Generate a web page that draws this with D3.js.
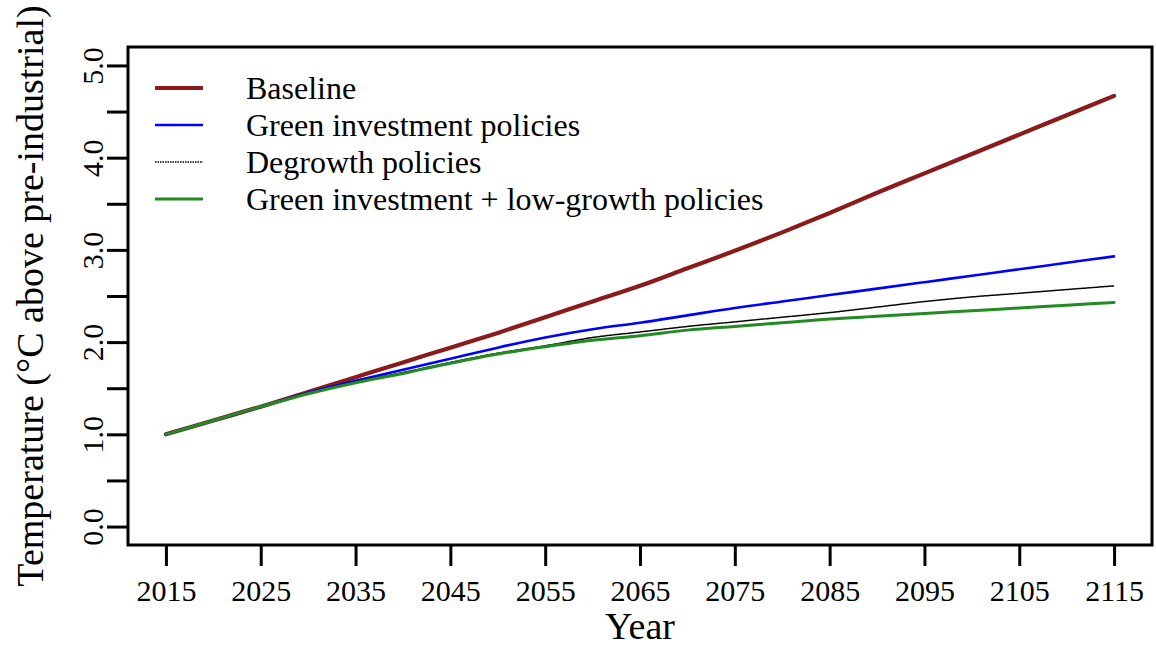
<!DOCTYPE html>
<html>
<head>
<meta charset="utf-8">
<script src="https://cdn.jsdelivr.net/npm/d3@7"></script>
<style>
  html, body { margin: 0; padding: 0; background: #fff; }
  svg { display: block; }
  text { font-family: "Liberation Serif", "DejaVu Serif", serif; fill: #000; }
</style>
</head>
<body>
<svg id="chart" width="1156" height="646"></svg>
<script>
// ---- data ----
const years = [2015, 2020, 2025, 2030, 2035, 2040, 2045, 2050, 2055, 2060, 2065,
               2070, 2075, 2080, 2085, 2090, 2095, 2100, 2105, 2110, 2115];
const baseline   = [1.00, 1.15, 1.30, 1.46, 1.62, 1.78, 1.94, 2.10, 2.27, 2.44, 2.61,
                    2.80, 2.99, 3.19, 3.40, 3.62, 3.83, 4.04, 4.25, 4.46, 4.67];
const greenInv   = [1.00, 1.15, 1.30, 1.45, 1.58, 1.70, 1.82, 1.94, 2.05, 2.14, 2.21,
                    2.29, 2.37, 2.44, 2.51, 2.58, 2.65, 2.72, 2.79, 2.86, 2.93];
const degrowth   = [1.00, 1.15, 1.30, 1.44, 1.57, 1.67, 1.78, 1.88, 1.96, 2.05, 2.11,
                    2.17, 2.22, 2.27, 2.32, 2.38, 2.44, 2.49, 2.53, 2.57, 2.61];
const greenLow   = [1.00, 1.15, 1.30, 1.44, 1.56, 1.66, 1.77, 1.87, 1.95, 2.02, 2.07,
                    2.13, 2.17, 2.21, 2.25, 2.28, 2.31, 2.34, 2.37, 2.40, 2.43];
const seriesNames = ["Baseline", "Green investment policies", "Degrowth policies",
                     "Green investment + low-growth policies"];
const xTicks = [2015, 2025, 2035, 2045, 2055, 2065, 2075, 2085, 2095, 2105, 2115];
const yTicks = [0, 0.5, 1, 1.5, 2, 2.5, 3, 3.5, 4, 4.5, 5];
const xTitle = "Year";
const yTitle = "Temperature (°C above pre-industrial)";

// ---- styles ----
const styles = [
  { color: "#8B1A1A", width: 4.2, dash: null },
  { color: "#0000FF", width: 2.6, dash: null },
  { color: "#000000", width: 1.5, dash: "1.5,1" },
  { color: "#228B22", width: 3,   dash: null }
];
const seriesData = [baseline, greenInv, degrowth, greenLow];

const svg = d3.select("#chart");
const L = 128, R = 1152, T = 47, B = 545;

const x = d3.scaleLinear().domain([2011, 2119]).range([L, R]);
const y = d3.scaleLinear().domain([-0.2, 5.2]).range([B, T]);

// lines
const line = d3.line().curve(d3.curveMonotoneX).x(d => x(d[0])).y(d => y(d[1]));
seriesData.forEach((vals, i) => {
  const pts = years.map((yr, j) => [yr, vals[j]]);
  svg.append("path")
    .datum(pts)
    .attr("d", line)
    .attr("fill", "none")
    .attr("stroke", styles[i].color)
    .attr("stroke-width", styles[i].width)
    .attr("stroke-linejoin", "round")
    .attr("stroke-linecap", "round")
    .attr("stroke-dasharray", styles[i].dash);
});

// box
svg.append("rect")
  .attr("x", L).attr("y", T)
  .attr("width", R - L).attr("height", B - T)
  .attr("fill", "none").attr("stroke", "#000").attr("stroke-width", 3);

// x axis
const xAxis = d3.axisBottom(x).tickValues(xTicks).tickSize(21).tickPadding(14)
  .tickFormat(d3.format("d"));
const gx = svg.append("g").attr("transform", `translate(0,${B})`).call(xAxis);
gx.select(".domain").remove();
gx.selectAll(".tick line").attr("stroke", "#000").attr("stroke-width", 3);
gx.selectAll(".tick text").attr("font-size", 30)
  .attr("font-family", "Liberation Serif").attr("fill", "#000");

// y axis
const yAxis = d3.axisLeft(y).tickValues(yTicks).tickSize(21)
  .tickFormat(d => Number.isInteger(d) ? d3.format(".1f")(d) : "");
const gy = svg.append("g").attr("transform", `translate(${L},0)`).call(yAxis);
gy.select(".domain").remove();
gy.selectAll(".tick line").attr("stroke", "#000").attr("stroke-width", 3);
gy.selectAll(".tick text")
  .attr("font-size", 30)
  .attr("font-family", "Liberation Serif")
  .attr("fill", "#000")
  .attr("x", null).attr("dy", null)
  .attr("text-anchor", "middle")
  .attr("transform", "translate(-25,0) rotate(-90)");

// axis titles
svg.append("text")
  .attr("x", (L + R) / 2).attr("y", 639)
  .attr("text-anchor", "middle")
  .attr("font-size", 38)
  .text(xTitle);
svg.append("text")
  .attr("transform", `translate(43,${(T + B) / 2}) rotate(-90)`)
  .attr("text-anchor", "middle")
  .attr("font-size", 38)
  .text(yTitle);

// legend
const legY = [88, 125, 162, 199];
seriesNames.forEach((name, i) => {
  const g = svg.append("g").attr("transform", `translate(0,${legY[i]})`);
  g.append("line")
    .attr("x1", 155).attr("x2", 203).attr("y1", 0).attr("y2", 0)
    .attr("stroke", styles[i].color)
    .attr("stroke-width", i === 0 ? 4 : styles[i].width)
    .attr("stroke-dasharray", styles[i].dash);
  g.append("text")
    .attr("x", 246).attr("y", 0).attr("dy", "0.33em")
    .attr("font-size", 32)
    .text(name);
});
</script>
</body>
</html>
